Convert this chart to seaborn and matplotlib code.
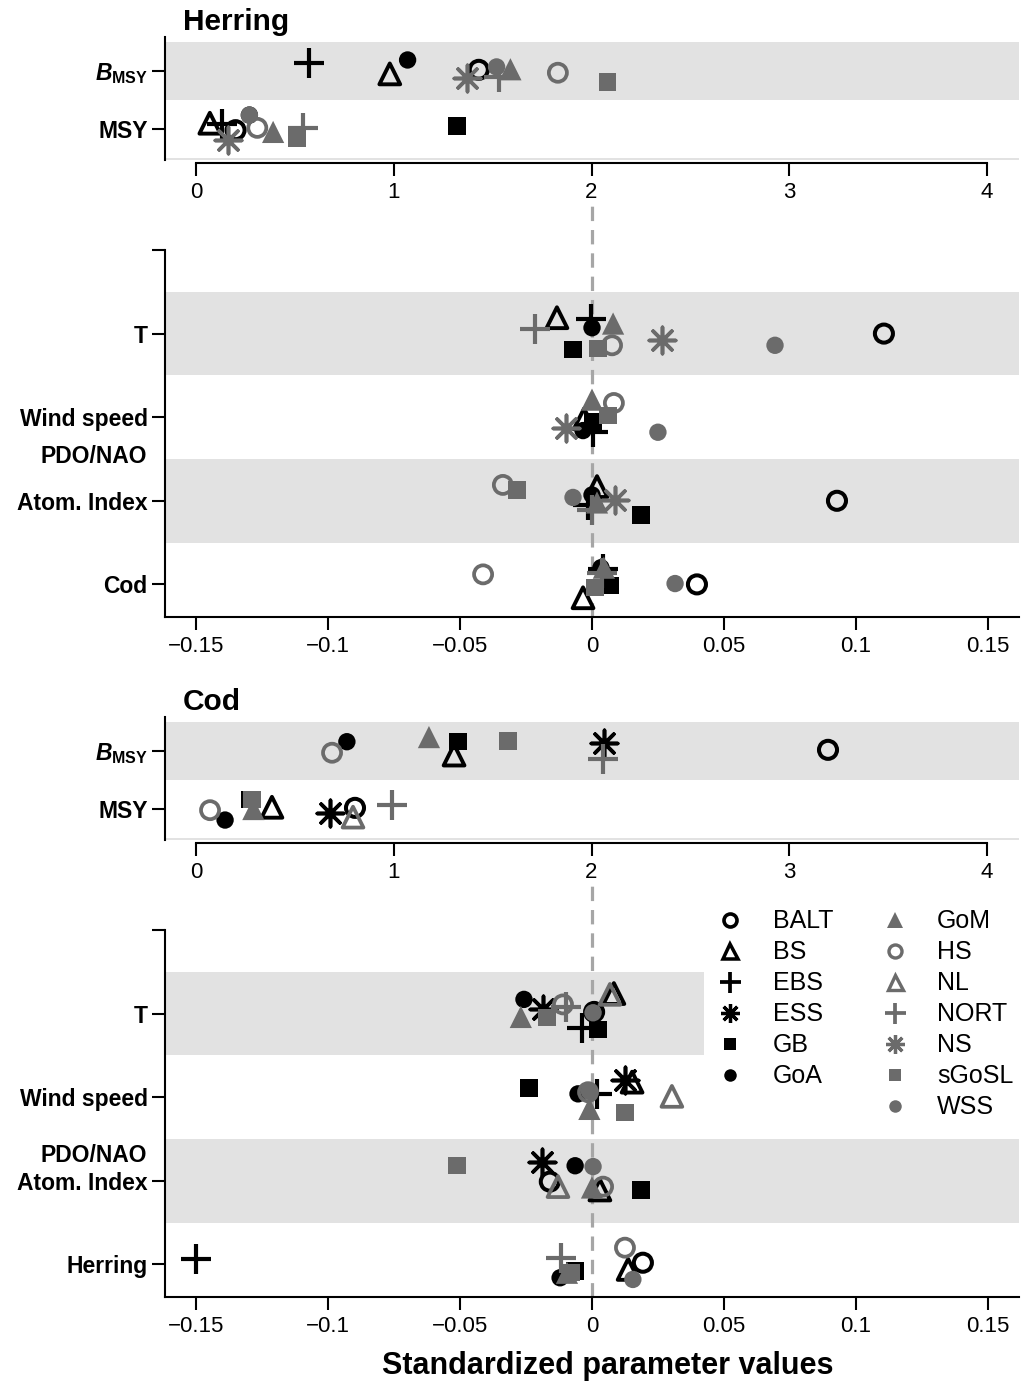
import numpy as np
import pandas as pd
import matplotlib
matplotlib.use("Agg")
import matplotlib.pyplot as plt
import seaborn as sns
from matplotlib.lines import Line2D

nan = np.nan

# ---------------------------------------------------------------- data
SITES = ["BALT", "BS", "EBS", "ESS", "GB", "GoA", "GoM", "HS", "NL",
         "NORT", "NS", "sGoSL", "WSS"]

MSY_ROWS = ["$B_{\\mathbf{MSY}}$", "MSY"]
HERRING_EFFECT_ROWS = ["", "T", "Wind speed", "Atom. Index", "Cod"]
COD_EFFECT_ROWS = ["", "T", "Wind speed", "Atom. Index", "Herring"]

MSY_TICKS = [0, 1, 2, 3, 4]
EFFECT_TICKS = [-0.15, -0.1, -0.05, 0, 0.05, 0.1, 0.15]
EFFECT_TICK_LABELS = ["\u22120.15", "\u22120.1", "\u22120.05", "0", "0.05", "0.1", "0.15"]

# Herring: reference points (order follows SITES)
herring_bmsy = [1.43, 0.98, 0.57, nan, 2.08, 1.07, 1.59, 1.83, nan, 1.53, 1.37, 2.08, 1.52]
herring_msy = [0.20, 0.07, 0.13, nan, 1.32, 0.27, 0.39, 0.31, nan, 0.54, 0.16, 0.51, 0.27]
# Herring: environmental and predator effects
herring_t = [0.1107, -0.0133, -0.0004, nan, -0.0072, 0.0, 0.008, 0.0076, nan, -0.0216, 0.0265, 0.0023, 0.0694]
herring_wind = [nan, -0.003, 0.0004, nan, 0.0004, -0.0034, 0.0, 0.0083, nan, nan, -0.0099, 0.006, 0.025]
herring_atom = [0.0929, 0.0019, -0.0015, nan, 0.0186, 0.0, 0.0019, -0.0338, nan, 0.0, 0.0087, -0.0284, -0.0072]
herring_cod = [0.0398, -0.0034, 0.0042, nan, 0.0068, 0.0034, 0.0045, -0.0413, nan, 0.0038, nan, 0.0011, 0.0315]

# Cod: reference points
cod_bmsy = [3.196, 1.305, nan, 2.063, 1.325, 0.763, 1.178, 0.688, nan, 2.058, nan, 1.578, nan]
cod_msy = [0.804, 0.384, nan, 0.678, 0.27, 0.147, 0.29, 0.071, 0.794, 0.991, nan, 0.283, nan]
# Cod: environmental and predator effects
cod_t = [0.0008, 0.0083, -0.0038, -0.0186, 0.0023, -0.0258, -0.027, -0.011, 0.0068, -0.010, nan, -0.017, 0.0004]
cod_wind = [nan, 0.0152, 0.0019, 0.0125, -0.0239, -0.0053, -0.001, -0.0015, 0.0303, nan, nan, 0.0125, -0.001]
cod_atom = [-0.016, 0.003, nan, -0.019, 0.0186, -0.0064, 0.0, 0.0042, -0.0129, nan, nan, -0.0512, 0.0004]
cod_herring = [0.0193, 0.0137, -0.15, nan, -0.0064, -0.0121, -0.0095, 0.0125, nan, -0.0118, nan, -0.008, 0.0155]

# vertical jitter inside each row (fraction of row spacing)
jit_herring_bmsy = [-0.02, 0.05, -0.14, 0, 0.19, -0.19, -0.03, 0.03, 0, 0.10, 0.12, 0.19, -0.07]
jit_herring_msy = [0.02, -0.10, -0.09, 0, -0.05, -0.24, 0.05, -0.02, 0, -0.02, 0.19, 0.16, -0.24]
jit_herring_t = [0.0, -0.19, -0.17, 0, 0.19, -0.07, -0.12, 0.14, 0, -0.06, 0.08, 0.18, 0.14]
jit_herring_wind = [0, 0.02, 0.18, 0, 0.05, 0.16, -0.21, -0.17, 0, 0, 0.13, -0.02, 0.18]
jit_herring_atom = [0.0, -0.17, 0.05, 0, 0.17, -0.07, 0.02, -0.19, 0, 0.11, -0.01, -0.13, -0.04]
jit_herring_cod = [0.0, 0.16, -0.18, 0, 0.01, -0.20, -0.20, -0.12, 0, -0.14, 0, 0.04, -0.01]
jit_cod_bmsy = [-0.02, 0.07, 0, -0.14, -0.16, -0.16, -0.24, 0.03, 0, 0.14, 0, -0.17, 0]
jit_cod_msy = [-0.02, -0.03, 0, 0.07, -0.16, 0.19, 0.0, 0.02, 0.14, -0.07, 0, -0.16, 0]
jit_cod_t = [-0.02, -0.24, 0.17, -0.05, 0.19, -0.17, 0.04, -0.11, -0.23, -0.08, 0, 0.05, -0.01]
jit_cod_wind = [0, -0.18, -0.04, -0.21, -0.11, -0.04, 0.14, -0.06, -0.01, 0, 0, 0.18, -0.07]
jit_cod_atom = [0.01, 0.11, 0, -0.22, 0.11, -0.18, 0.08, 0.07, 0.07, 0, 0, -0.18, -0.17]
jit_cod_herring = [-0.02, 0.06, -0.06, 0, 0.08, 0.16, 0.10, -0.20, 0, -0.08, 0, 0.10, 0.18]

# ---------------------------------------------------------------- styles
BLACK = "#000000"
GREY = "#6b6b6b"
BAND = "#e2e2e2"
ASTER = (8, 2, 0)

# marker, colour, hollow?, size (pt), line width (pt)
SITE_STYLE = {
    "BALT": ("o", BLACK, True, 13, 2.9),
    "BS": ("^", BLACK, True, 15, 2.8),
    "EBS": ("+", BLACK, False, 21, 3.0),
    "ESS": (ASTER, BLACK, False, 19, 2.6),
    "GB": ("s", BLACK, False, 12.5, 0),
    "GoA": ("o", BLACK, False, 12.5, 0),
    "GoM": ("^", GREY, False, 16, 0),
    "HS": ("o", GREY, True, 13, 2.7),
    "NL": ("^", GREY, True, 15, 2.7),
    "NORT": ("+", GREY, False, 21, 3.0),
    "NS": (ASTER, GREY, False, 19, 2.6),
    "sGoSL": ("s", GREY, False, 12.5, 0),
    "WSS": ("o", GREY, False, 12.5, 0),
}

sns.set_style("ticks")
plt.rcParams.update({
    "font.family": ["Liberation Sans", "DejaVu Sans"],
    "mathtext.fontset": "custom",
    "mathtext.it": "Liberation Sans:italic:bold",
    "mathtext.bf": "Liberation Sans:bold",
    "mathtext.rm": "Liberation Sans:bold",
    "axes.linewidth": 1.5,
    "xtick.major.width": 1.5,
    "ytick.major.width": 1.5,
    "xtick.major.size": 9.5,
    "ytick.major.size": 9.5,
    "xtick.color": "black",
    "ytick.color": "black",
    "text.color": "black",
    "axes.labelcolor": "black",
    "axes.edgecolor": "black",
})

W, H = 1021, 1383
fig = plt.figure(figsize=(W / 100, H / 100), dpi=100)


def frame(top_px, bottom_px):
    left, right = 165 / W, 1019 / W
    return fig.add_axes([left, 1 - bottom_px / H, right - left, (bottom_px - top_px) / H])


def long_table(rows_values, rows_jitter, positions):
    recs = []
    for vals, jit, pos in zip(rows_values, rows_jitter, positions):
        for site, v, j in zip(SITES, vals, jit):
            if not np.isnan(v):
                recs.append({"site": site, "value": v, "row": pos + j})
    return pd.DataFrame(recs)


def draw_points(ax, df):
    for site in SITES:
        sub = df[df["site"] == site]
        if sub.empty:
            continue
        marker, col, hollow, size, lw = SITE_STYLE[site]
        kw = dict(data=sub, x="value", y="row", ax=ax, marker=marker,
                  s=size ** 2, color=col, zorder=3, legend=False)
        if hollow:
            kw.update(facecolors="none", edgecolor=col, linewidth=lw)
        elif marker in ("+", ASTER):
            kw.update(linewidth=lw)
        else:
            kw.update(edgecolor="none", linewidth=0)
        sns.scatterplot(**kw)
    ax.set_xlabel("")
    ax.set_ylabel("")


def label_side(ax, ticks, labels):
    ax.set_yticks(ticks)
    ax.set_yticklabels(labels, fontsize=16.5, fontweight="bold")
    ax.tick_params(axis="y", pad=3)


def msy_panel(ax, bmsy, msy, jb, jm):
    ax.spines[["top", "right"]].set_visible(False)
    ax.spines["bottom"].set_position(("outward", 2.5))
    for r in (0, 2):
        ax.axhspan(r - 0.5, r + 0.5, color=BAND, lw=0, zorder=0)
    draw_points(ax, long_table([bmsy, msy], [jb, jm], [0, 1]))
    ax.set_xlim(-31 / 197.75, 823 / 197.75)
    ax.set_ylim(1.534, -0.586)
    label_side(ax, [0, 1], MSY_ROWS)
    ax.set_xticks(MSY_TICKS)
    ax.set_xticklabels([str(t) for t in MSY_TICKS], fontsize=16)
    ax.tick_params(axis="x", pad=4)
    ax.spines["bottom"].set_bounds(0, 4)


def effect_panel(ax, rows, jits, row_labels, pdo_row):
    ax.spines[["top", "right"]].set_visible(False)
    for r in (1, 3):
        ax.axhspan(r - 0.5, r + 0.5, color=BAND, lw=0, zorder=0)
    ax.axvline(0, ymin=0, ymax=1.12, color="#a6a6a6", lw=2.3,
               linestyle=(0, (4.5, 2.8)), zorder=1, clip_on=False)
    draw_points(ax, long_table(rows, jits, [1, 2, 3, 4]))
    ax.set_xlim(-427 / 2637, 427 / 2637)
    ax.set_ylim(4.39, 0)
    label_side(ax, [0, 1, 2, 3, 4], row_labels)
    ax.set_xticks(EFFECT_TICKS)
    ax.set_xticklabels(EFFECT_TICK_LABELS, fontsize=16)
    ax.tick_params(axis="x", pad=4)
    ax.annotate("PDO/NAO", xy=(0, pdo_row), xycoords=("axes fraction", "data"),
                xytext=(-13, 0), textcoords="offset points", ha="right",
                va="center", fontsize=16.5, fontweight="bold", color="black",
                annotation_clip=False)


# Herring
ax1 = frame(37, 160)
msy_panel(ax1, herring_bmsy, herring_msy, jit_herring_bmsy, jit_herring_msy)
ax2 = frame(250, 617)
effect_panel(ax2, [herring_t, herring_wind, herring_atom, herring_cod],
             [jit_herring_t, jit_herring_wind, jit_herring_atom, jit_herring_cod],
             HERRING_EFFECT_ROWS, 2.47)

# Cod
ax3 = frame(717, 840)
msy_panel(ax3, cod_bmsy, cod_msy, jit_cod_bmsy, jit_cod_msy)
ax4 = frame(930, 1297)
effect_panel(ax4, [cod_t, cod_wind, cod_atom, cod_herring],
             [jit_cod_t, jit_cod_wind, jit_cod_atom, jit_cod_herring],
             COD_EFFECT_ROWS, 2.70)

fig.text(183 / W, 1 - 22 / H, "Herring", ha="left", va="center",
         fontsize=21.5, fontweight="bold")
fig.text(183 / W, 1 - 702 / H, "Cod", ha="left", va="center",
         fontsize=21.5, fontweight="bold")
fig.text(608 / W, 1 - 1366 / H, "Standardized parameter values",
         ha="center", va="center", fontsize=22, fontweight="bold")

# legend: six stocks in the first column, seven in the second
handles, labels = [], []
for site in SITES:
    marker, col, hollow, size, lw = SITE_STYLE[site]
    handles.append(Line2D([], [], linestyle="none", marker=marker,
                          markersize=size * 0.72, color=col,
                          markerfacecolor="none" if hollow else col,
                          markeredgecolor=col,
                          markeredgewidth=lw * 0.9 if lw else 0))
    labels.append(site)
handles.insert(6, Line2D([], [], linestyle="none"))
labels.insert(6, "")
leg = fig.legend(handles, labels, ncol=2, loc="upper left",
                 bbox_to_anchor=(704 / W, 1 - 898 / H), fontsize=18,
                 frameon=True, facecolor="white", edgecolor="none",
                 framealpha=1, fancybox=False, borderpad=0.45,
                 handlelength=1.2, handletextpad=1.1, columnspacing=1.85,
                 labelspacing=0.28, borderaxespad=0)

fig.savefig("out.png", dpi=100)
